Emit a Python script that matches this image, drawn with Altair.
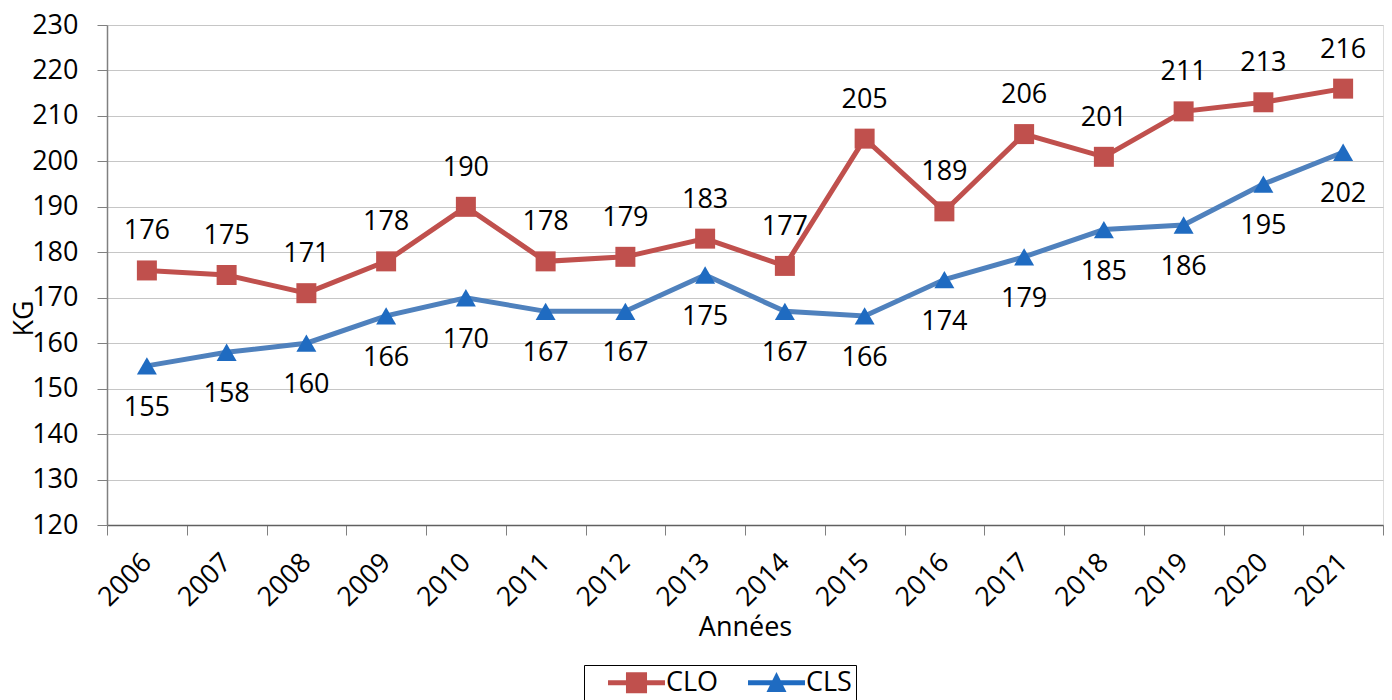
import altair as alt
import pandas as pd

years = [str(y) for y in range(2006, 2022)]
clo = [176, 175, 171, 178, 190, 178, 179, 183, 177, 205, 189, 206, 201, 211, 213, 216]
cls = [155, 158, 160, 166, 170, 167, 167, 175, 167, 166, 174, 179, 185, 186, 195, 202]
series = ["CLO", "CLS"]
y_ticks = list(range(120, 231, 10))

line_colors = {"CLO": "#C0504D", "CLS": "#4F81BD"}
marker_colors = ["#C0504D", "#1F6BC1"]

rows = []
for s, vals in zip(series, [clo, cls]):
    for yr, v in zip(years, vals):
        rows.append({"year": yr, "value": v, "series": s, "lc": line_colors[s]})
df = pd.DataFrame(rows)

FONT = "Open Sans"
FS = 27

x_enc = alt.X(
    "year:N",
    sort=years,
    scale=alt.Scale(paddingInner=0, paddingOuter=0),
    axis=alt.Axis(
        title="Années",
        titleFont=FONT, titleFontSize=FS, titleFontWeight="normal", titleColor="black",
        titleBaseline="alphabetic", titleY=110,
        labelFont=FONT, labelFontSize=FS, labelColor="black",
        labelAngle=-45, labelAlign="right", labelBaseline="middle", labelPadding=23,
        tickBand="extent", tickSize=10, tickColor="#808080",
        domainColor="#606060", domainWidth=1.5, grid=False, labelOverlap=False,
    ),
)
y_enc = alt.Y(
    "value:Q",
    scale=alt.Scale(domain=[120, 230], nice=False, zero=False),
    axis=alt.Axis(
        title="KG",
        titleFont=FONT, titleFontSize=FS, titleFontWeight="normal", titleColor="black",
        titleX=-83, titleY=293, titleAngle=-90, titleBaseline="middle", titleAlign="center",
        values=y_ticks,
        labelFont=FONT, labelFontSize=FS, labelColor="black", labelPadding=19,
        tickSize=10, tickColor="#808080", domainColor="#808080", domainWidth=1.5,
        grid=True, gridColor="#C6C6C6", gridWidth=1.2,
    ),
)

base = alt.Chart(df)

lines = base.mark_line(strokeWidth=5).encode(
    x=x_enc, y=y_enc,
    color=alt.Color("lc:N", scale=None),
    detail="series:N",
)

points = base.mark_point(filled=True, size=400, opacity=1, strokeWidth=0).encode(
    x=x_enc, y=y_enc,
    shape=alt.Shape("series:N", scale=alt.Scale(domain=series, range=["square", "triangle-up"]), legend=None),
    color=alt.Color("series:N", scale=alt.Scale(domain=series, range=marker_colors), legend=None),
)

# legend symbols: line segment + marker (unit radius = 13.5 px)
clo_path = "M-2.11,-0.185H2.11V0.185H-2.11Z M-0.78,-0.78H0.78V0.78H-0.78Z"
cls_path = "M-2.11,-0.185H2.11V0.185H-2.11Z M0,-0.8L0.74,0.68H-0.74Z"

legend_cfg = dict(
    title=None, orient="none", direction="horizontal",
    legendX=477, legendY=640,
    labelFont=FONT, labelFontSize=FS, labelColor="black",
    symbolSize=729, symbolStrokeWidth=0, symbolOpacity=1,
    symbolOffset=35, labelOffset=16,
    strokeColor="#000000", padding=4, columnPadding=9,
)

legend_layer = base.mark_point(filled=True, opacity=0).encode(
    x=x_enc, y=y_enc,
    shape=alt.Shape("series:N", scale=alt.Scale(domain=series, range=[clo_path, cls_path]),
                    legend=alt.Legend(**legend_cfg)),
    color=alt.Color("series:N", scale=alt.Scale(domain=series, range=marker_colors),
                    legend=alt.Legend(**legend_cfg)),
)

text_clo = base.transform_filter(alt.datum.series == "CLO").mark_text(
    font=FONT, fontSize=FS, color="black", dy=-39
).encode(x=x_enc, y=y_enc, text="value:Q")

text_cls = base.transform_filter(alt.datum.series == "CLS").mark_text(
    font=FONT, fontSize=FS, color="black", dy=42
).encode(x=x_enc, y=y_enc, text="value:Q")

chart = (
    alt.layer(lines, points, text_clo, text_cls, legend_layer)
    .resolve_scale(color="independent", shape="independent")
    .properties(
        width=1276, height=500,
        autosize=alt.AutoSizeParams(type="none"),
        padding={"left": 99, "top": 17, "right": 1, "bottom": 175},
    )
    .configure_view(fill="#F2F2F2", stroke=None)
    .configure(background="white")
)

chart.save("out.html", embed_options={"renderer": "svg", "actions": False})
